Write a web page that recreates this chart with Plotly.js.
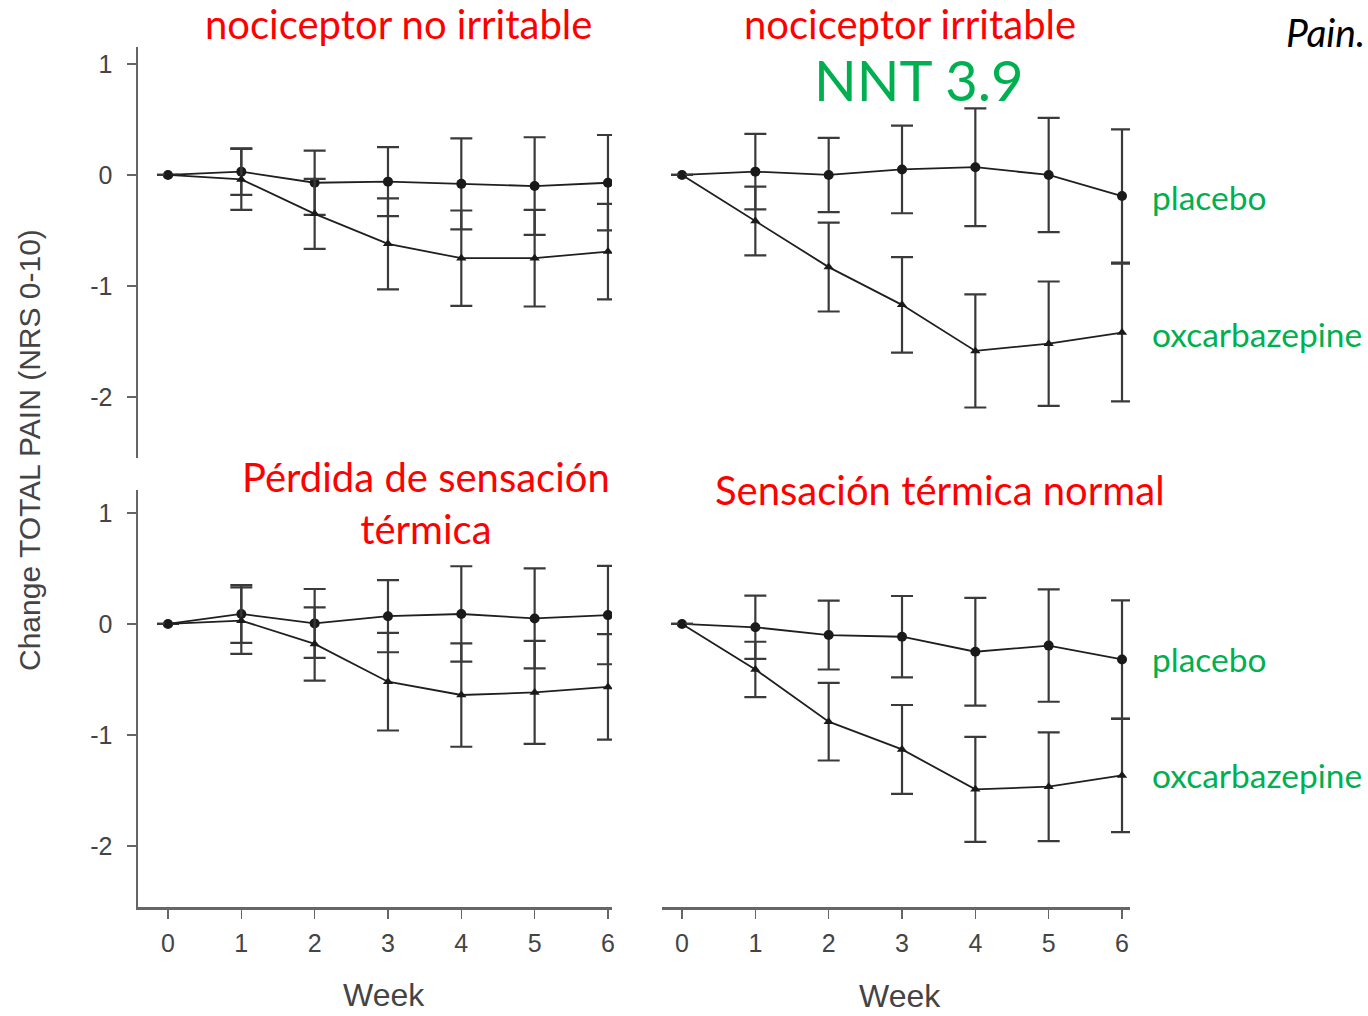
<!DOCTYPE html>
<html>
<head>
<meta charset="utf-8">
<script src="https://cdn.plot.ly/plotly-3.0.1.min.js"></script>
<style>html,body{margin:0;padding:0;background:#fff;}#chart{width:1368px;height:1016px;}</style>
</head>
<body>
<div id="chart"></div>
<script>
// ---- data ----
var weeks = [0, 1, 2, 3, 4, 5, 6];
var tickLabelsX = ["0", "1", "2", "3", "4", "5", "6"];
var tickValsY = [-2, -1, 0, 1];
var tickLabelsY = ["-2", "-1", "0", "1"];

// nociceptor no irritable (top left)
var placeboTL    = [0, 0.03, -0.07, -0.06, -0.08, -0.10, -0.07];
var placeboTLerr = [null, 0.21, 0.29, 0.31, 0.41, 0.44, 0.43];
var oxTL         = [0, -0.04, -0.35, -0.62, -0.75, -0.75, -0.69];
var oxTLerr      = [null, 0.275, 0.315, 0.41, 0.43, 0.435, 0.43];

// nociceptor irritable (top right)
var placeboTR    = [0, 0.03, 0.00, 0.05, 0.07, 0.00, -0.19];
var placeboTRerr = [null, 0.34, 0.335, 0.395, 0.53, 0.515, 0.60];
var oxTR         = [0, -0.415, -0.83, -1.17, -1.585, -1.52, -1.42];
var oxTRerr      = [null, 0.31, 0.40, 0.43, 0.51, 0.56, 0.62];

// Pérdida de sensación térmica (bottom left)
var placeboBL    = [0, 0.09, 0.005, 0.07, 0.09, 0.05, 0.08];
var placeboBLerr = [null, 0.26, 0.31, 0.325, 0.43, 0.45, 0.443];
var oxBL         = [0, 0.03, -0.18, -0.52, -0.64, -0.617, -0.567];
var oxBLerr      = [null, 0.30, 0.33, 0.44, 0.466, 0.464, 0.475];

// Sensación térmica normal (bottom right)
var placeboBR    = [0, -0.03, -0.10, -0.115, -0.25, -0.195, -0.32];
var placeboBRerr = [null, 0.285, 0.31, 0.367, 0.485, 0.506, 0.533];
var oxBR         = [0, -0.41, -0.88, -1.13, -1.49, -1.466, -1.365];
var oxBRerr      = [null, 0.25, 0.35, 0.40, 0.473, 0.49, 0.51];

var panelTitles = ["nociceptor no irritable", "nociceptor irritable",
                   "Pérdida de sensación<br>térmica", "Sensación térmica normal"];
var seriesNames = ["placebo", "oxcarbazepine"];

// ---- helpers ----
var W = 1368, H = 1016;
function px(x) { return x / W; }
function py(y) { return 1 - y / H; }

var lineCol = "#1f1f1f", errCol = "#3a3a3a";
function series(xa, ya, y, err, sym, size, name) {
  return {
    x: weeks, y: y, xaxis: xa, yaxis: ya, name: name,
    type: "scatter", mode: "lines+markers",
    line: {color: lineCol, width: 1.8},
    marker: {symbol: sym, size: size, color: "#1a1a1a"},
    error_y: {type: "data", array: err, visible: true, color: errCol, thickness: 2.2, width: 11},
    showlegend: false, hoverinfo: "skip"
  };
}

var data = [
  series("x", "y", placeboTL, placeboTLerr, "circle", 10, seriesNames[0]),
  series("x", "y", oxTL, oxTLerr, "triangle-up", 9, seriesNames[1]),
  series("x2", "y2", placeboTR, placeboTRerr, "circle", 10, seriesNames[0]),
  series("x2", "y2", oxTR, oxTRerr, "triangle-up", 9, seriesNames[1]),
  series("x3", "y3", placeboBL, placeboBLerr, "circle", 10, seriesNames[0]),
  series("x3", "y3", oxBL, oxBLerr, "triangle-up", 9, seriesNames[1]),
  series("x4", "y4", placeboBR, placeboBRerr, "circle", 10, seriesNames[0]),
  series("x4", "y4", oxBR, oxBRerr, "triangle-up", 9, seriesNames[1])
];

var arialFam = "Liberation Sans, Arial, sans-serif";
var axFont = {family: arialFam, size: 25, color: "#444444"};
var axisGray = "#666666";

var domLeftX = [px(138), px(612)], rangeLeftX = [-0.409, 6.055];
var domRightX = [px(662), px(1130)], rangeRightX = [-0.273, 6.109];
var domTopY = [py(458), py(47)], rangeTopY = [-2.55, 1.153];
var domBotY = [py(907), py(490)], rangeBotY = [-2.55, 1.207];

function hiddenAxis(dom, rng, anchor) {
  return {domain: dom, range: rng, anchor: anchor, visible: false, fixedrange: true};
}
function yAxisShown(dom, rng, anchor) {
  return {
    domain: dom, range: rng, anchor: anchor, fixedrange: true,
    tickmode: "array", tickvals: tickValsY, ticktext: tickLabelsY,
    ticks: "outside", ticklen: 9, tickwidth: 1.5, tickcolor: axisGray,
    showline: true, linecolor: axisGray, linewidth: 2.5,
    showgrid: false, zeroline: false, tickfont: axFont, ticklabelstandoff: 9
  };
}
function xAxisShown(dom, rng, anchor) {
  return {
    domain: dom, range: rng, anchor: anchor, fixedrange: true,
    tickmode: "array", tickvals: weeks, ticktext: tickLabelsX,
    ticks: "outside", ticklen: 9, tickwidth: 1.5, tickcolor: axisGray,
    showline: true, linecolor: axisGray, linewidth: 2.5,
    showgrid: false, zeroline: false, tickfont: axFont, ticklabelstandoff: 3
  };
}

var calibri = "Lato, Open Sans, sans-serif";
var red = "#ff0000", green = "#00b050";

function ann(text, x, y, size, color, opts) {
  var a = {text: text, x: px(x), y: py(y), xref: "paper", yref: "paper",
           showarrow: false, xanchor: "center", yanchor: "middle", borderpad: 0,
           font: {family: calibri, size: size, color: color}};
  if (opts) for (var k in opts) a[k] = opts[k];
  return a;
}

var grayText = {family: arialFam, size: 32, color: "#444444"};

var layout = {
  width: W, height: H,
  margin: {l: 0, r: 0, t: 0, b: 0, pad: 0},
  paper_bgcolor: "#ffffff", plot_bgcolor: "rgba(0,0,0,0)",
  xaxis: hiddenAxis(domLeftX, rangeLeftX, "y"),
  yaxis: yAxisShown(domTopY, rangeTopY, "x"),
  xaxis2: hiddenAxis(domRightX, rangeRightX, "y2"),
  yaxis2: hiddenAxis(domTopY, rangeTopY, "x2"),
  xaxis3: xAxisShown(domLeftX, rangeLeftX, "y3"),
  yaxis3: yAxisShown(domBotY, rangeBotY, "x3"),
  xaxis4: xAxisShown(domRightX, rangeRightX, "y4"),
  yaxis4: hiddenAxis(domBotY, rangeBotY, "x4"),
  annotations: [
    ann(panelTitles[0], 398, 24, 40, red),
    ann(panelTitles[1], 910, 24, 40, red),
    ann("NNT 3.9", 918, 80, 56, green),
    ann("Pain.", 1366, 32, 39, "#000000", {xanchor: "right", font: {family: calibri, size: 39, color: "#000", style: "italic"}}),
    ann(panelTitles[2], 426, 503, 40, red, {align: "center"}),
    ann(panelTitles[3], 940, 490, 40, red),
    ann(seriesNames[0], 1151, 197, 33.5, green, {xanchor: "left"}),
    ann(seriesNames[1], 1151, 334, 33.5, green, {xanchor: "left"}),
    ann(seriesNames[0], 1151, 659, 33.5, green, {xanchor: "left"}),
    ann(seriesNames[1], 1151, 775, 33.5, green, {xanchor: "left"}),
    ann("Change TOTAL PAIN (NRS 0-10)", 29, 450, 30, "#444444",
        {textangle: -90, font: {family: arialFam, size: 30, color: "#444444"}}),
    ann("Week", 384, 995, 32, "#444444", {font: grayText}),
    ann("Week", 900, 996, 32, "#444444", {font: grayText})
  ]
};

Plotly.newPlot("chart", data, layout, {staticPlot: true, displayModeBar: false});
</script>
</body>
</html>
